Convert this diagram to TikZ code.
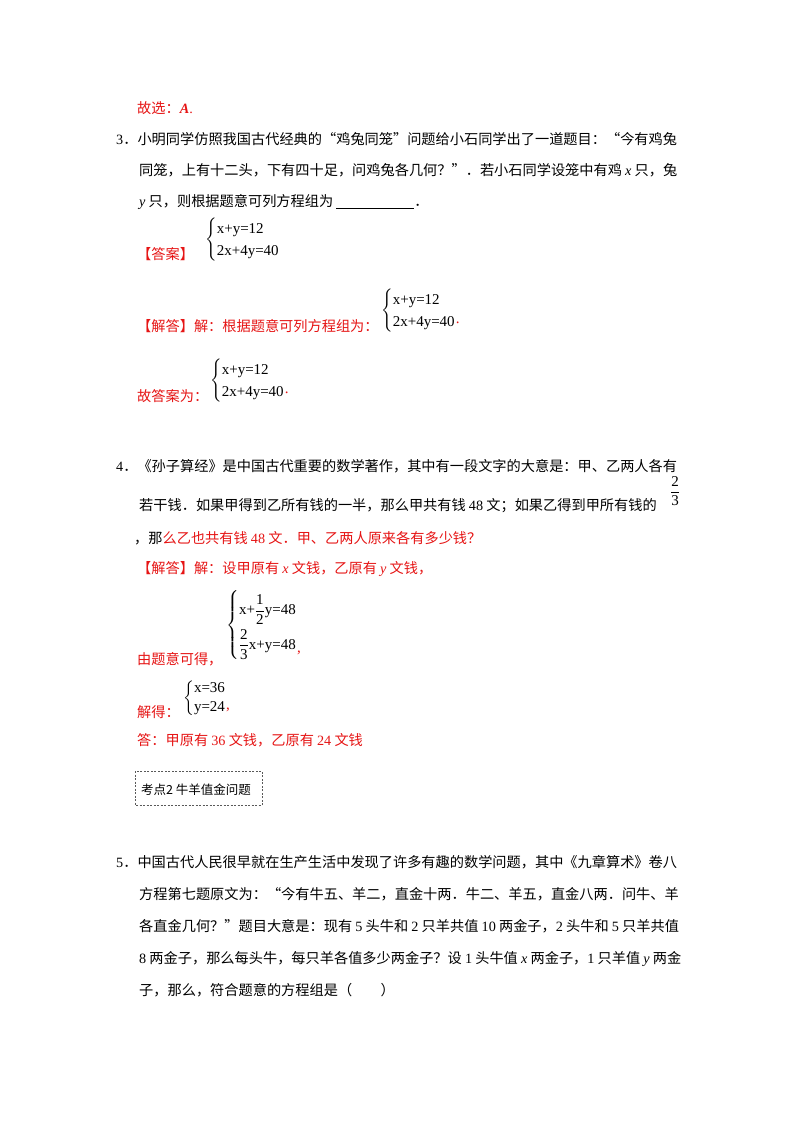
\documentclass[tikz,border=0pt]{standalone}
\usepackage{fontspec}
\usepackage{amsmath}
\setmainfont{Liberation Serif}
\newfontfamily\cjk{Noto Sans CJK SC}
\definecolor{ans}{RGB}{230,20,20}
\newcommand{\xx}[1]{{\rmfamily\itshape #1}}
\newcommand{\nn}[1]{{\rmfamily #1}}
\begin{document}
\begin{tikzpicture}[x=1pt,y=-1pt,
  t/.style={anchor=base west,inner sep=0pt,font=\cjk\fontsize{14.2pt}{14pt}\selectfont},
  r/.style={t,text=ans},
  eq/.style={anchor=west,inner sep=0pt,font=\rmfamily\fontsize{15pt}{15pt}\selectfont}]
\useasboundingbox (0,0) rectangle (800,1132);
\fill[white] (0,0) rectangle (800,1132);
\node[r] (l1) at (137,113) {故选：\xx{\bfseries A}\nn{.}};
\node[t] (l2) at (116,144) {\nn{3}．小明同学仿照我国古代经典的“鸡兔同笼”问题给小石同学出了一道题目：“今有鸡兔};
\node[t] (l3) at (139,175) {同笼，上有十二头，下有四十足，问鸡兔各几何？”．若小石同学设笼中有鸡 \xx{x} 只，兔};
\node[t] (l4) at (139,206) {\xx{y} 只，则根据题意可列方程组为 \underline{\hspace{78pt}}．};
\node[r] (a1) at (137,259) {【答案】};
\node[eq] (e1) at (205,240) {$\left\{\renewcommand{\arraystretch}{1.45}\begin{array}{@{}l@{}}\text{x+y=12}\\ \text{2x+4y=40}\end{array}\right.$};
\node[r] (a2) at (137,331) {【解答】解：根据题意可列方程组为：};
\node[eq] (e2) at (381,311) {$\left\{\renewcommand{\arraystretch}{1.45}\begin{array}{@{}l@{}}\text{x+y=12}\\ \text{2x+4y=40}\end{array}\right.$\raisebox{-9pt}{\textcolor{ans}{.}}};
\node[r] (a3) at (137,401) {故答案为：};
\node[eq] (e3) at (210,381) {$\left\{\renewcommand{\arraystretch}{1.45}\begin{array}{@{}l@{}}\text{x+y=12}\\ \text{2x+4y=40}\end{array}\right.$\raisebox{-9pt}{\textcolor{ans}{.}}};
\node[t] (l5) at (116,471) {\nn{4}．《孙子算经》是中国古代重要的数学著作，其中有一段文字的大意是：甲、乙两人各有};
\node[t] (l6) at (139,510) {若干钱．如果甲得到乙所有钱的一半，那么甲共有钱 \nn{48} 文；如果乙得到甲所有钱的};
\node[eq] (f1) at (670,491) {$\dfrac{\text{2}}{\text{3}}$};
\node[t] (l7) at (134,543) {，那\textcolor{ans}{么乙也共有钱 \nn{48} 文．甲、乙两人原来各有多少钱？}};
\node[r] (a4) at (137,573) {【解答】解：设甲原有 \xx{x} 文钱，乙原有 \xx{y} 文钱，};
\node[r] (a5) at (137,664) {由题意可得，};
\node[eq] (e4) at (226,625) {$\left\{\renewcommand{\arraystretch}{2.3}\begin{array}{@{}l@{}}\text{x+}\dfrac{\text{1}}{\text{2}}\text{y=48}\\ \dfrac{\text{2}}{\text{3}}\text{x+y=48}\end{array}\right.$\raisebox{-24pt}{\textcolor{ans}{,}}};
\node[r] (a6) at (137,717) {解得：};
\node[eq] (e5) at (183,698) {$\left\{\renewcommand{\arraystretch}{1.25}\begin{array}{@{}l@{}}\text{x=36}\\ \text{y=24}\end{array}\right.$\raisebox{-8pt}{\textcolor{ans}{,}}};
\node[r] (a7) at (137,745) {答：甲原有 \nn{36} 文钱，乙原有 \nn{24} 文钱};
\draw[dash pattern=on 2pt off 1.5pt,gray!70!black] (135,771) rectangle (262,805);
\node[t,font=\cjk\fontsize{12.5pt}{12.5pt}\selectfont] (k) at (141,794) {考点2 牛羊值金问题};
\node[t] (l8) at (116,867) {\nn{5}．中国古代人民很早就在生产生活中发现了许多有趣的数学问题，其中《九章算术》卷八};
\node[t] (l9) at (139,899) {方程第七题原文为：“今有牛五、羊二，直金十两．牛二、羊五，直金八两．问牛、羊};
\node[t] (l10) at (139,931) {各直金几何？”题目大意是：现有 \nn{5} 头牛和 \nn{2} 只羊共值 \nn{10} 两金子，\nn{2} 头牛和 \nn{5} 只羊共值};
\node[t] (l11) at (139,963) {\nn{8} 两金子，那么每头牛，每只羊各值多少两金子？设 \nn{1} 头牛值 \xx{x} 两金子，\nn{1} 只羊值 \xx{y} 两金};
\node[t] (l12) at (139,995) {子，那么，符合题意的方程组是（　　）};
\end{tikzpicture}
\end{document}
